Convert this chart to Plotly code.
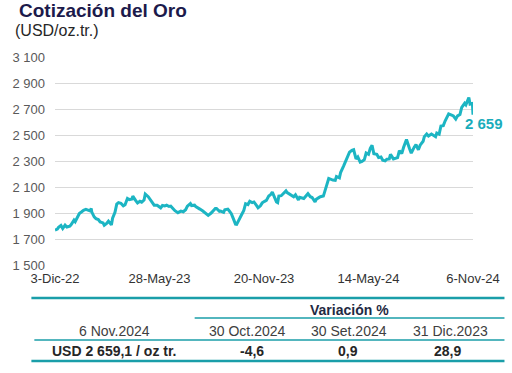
import plotly.graph_objects as go

# ---------------- data ----------------
dates = [
    "2022-12-03", "2022-12-07", "2022-12-09", "2022-12-13", "2022-12-16", "2022-12-20", "2022-12-23",
    "2022-12-28", "2022-12-30", "2023-01-04", "2023-01-06", "2023-01-10", "2023-01-13", "2023-01-17",
    "2023-01-20", "2023-01-24", "2023-01-27", "2023-01-31", "2023-02-02", "2023-02-03", "2023-02-07",
    "2023-02-10", "2023-02-14", "2023-02-17", "2023-02-22", "2023-02-24", "2023-02-28", "2023-03-03",
    "2023-03-08", "2023-03-10", "2023-03-14", "2023-03-17", "2023-03-20", "2023-03-24", "2023-03-28",
    "2023-03-31", "2023-04-04", "2023-04-07", "2023-04-12", "2023-04-13", "2023-04-18", "2023-04-21",
    "2023-04-25", "2023-04-28", "2023-05-02", "2023-05-04", "2023-05-09", "2023-05-12", "2023-05-16",
    "2023-05-19", "2023-05-24", "2023-05-30", "2023-06-02", "2023-06-06", "2023-06-09", "2023-06-13",
    "2023-06-16", "2023-06-21", "2023-06-23", "2023-06-28", "2023-07-03", "2023-07-07", "2023-07-11",
    "2023-07-14", "2023-07-19", "2023-07-21", "2023-07-26", "2023-07-28", "2023-08-02", "2023-08-04",
    "2023-08-09", "2023-08-11", "2023-08-16", "2023-08-18", "2023-08-23", "2023-08-25", "2023-08-30",
    "2023-09-01", "2023-09-06", "2023-09-08", "2023-09-13", "2023-09-15", "2023-09-20", "2023-09-22",
    "2023-09-26", "2023-09-29", "2023-10-03", "2023-10-05", "2023-10-09", "2023-10-13", "2023-10-17",
    "2023-10-20", "2023-10-24", "2023-10-27", "2023-10-31", "2023-11-03", "2023-11-07", "2023-11-10",
    "2023-11-14", "2023-11-17", "2023-11-21", "2023-11-24", "2023-11-28", "2023-12-01", "2023-12-04",
    "2023-12-07", "2023-12-11", "2023-12-13", "2023-12-15", "2023-12-19", "2023-12-22", "2023-12-27",
    "2023-12-29", "2024-01-03", "2024-01-05", "2024-01-09", "2024-01-12", "2024-01-17", "2024-01-19",
    "2024-01-23", "2024-01-26", "2024-01-30", "2024-02-02", "2024-02-06", "2024-02-09", "2024-02-14",
    "2024-02-16", "2024-02-21", "2024-02-23", "2024-02-28", "2024-03-01", "2024-03-05", "2024-03-08",
    "2024-03-12", "2024-03-15", "2024-03-19", "2024-03-21", "2024-03-26", "2024-03-28", "2024-04-02",
    "2024-04-05", "2024-04-09", "2024-04-12", "2024-04-16", "2024-04-19", "2024-04-23", "2024-04-26",
    "2024-04-30", "2024-05-03", "2024-05-07", "2024-05-10", "2024-05-14", "2024-05-17", "2024-05-20",
    "2024-05-23", "2024-05-28", "2024-05-31", "2024-06-04", "2024-06-07", "2024-06-11", "2024-06-14",
    "2024-06-18", "2024-06-20", "2024-06-25", "2024-06-28", "2024-07-02", "2024-07-05", "2024-07-09",
    "2024-07-12", "2024-07-16", "2024-07-17", "2024-07-22", "2024-07-25", "2024-07-30", "2024-08-02",
    "2024-08-06", "2024-08-09", "2024-08-14", "2024-08-16", "2024-08-20", "2024-08-23", "2024-08-28",
    "2024-08-30", "2024-09-04", "2024-09-06", "2024-09-10", "2024-09-13", "2024-09-17", "2024-09-20",
    "2024-09-24", "2024-09-26", "2024-10-01", "2024-10-04", "2024-10-08", "2024-10-11", "2024-10-15",
    "2024-10-18", "2024-10-23", "2024-10-25", "2024-10-30", "2024-11-01", "2024-11-05", "2024-11-06",
]
prices = [
    1775, 1782, 1795, 1810, 1786, 1812, 1798,
    1805, 1814, 1850, 1838, 1876, 1901, 1915,
    1926, 1933, 1928, 1922, 1940, 1912, 1875,
    1862, 1855, 1837, 1829, 1812, 1825, 1843,
    1814, 1866, 1910, 1973, 1985, 1980, 1960,
    1969, 2016, 2008, 2013, 2035, 2000, 1982,
    1995, 1988, 2005, 2050, 2030, 2012, 1990,
    1965, 1965, 1945, 1963, 1960, 1965, 1955,
    1958, 1930, 1923, 1908, 1920, 1915, 1930,
    1958, 1978, 1962, 1965, 1955, 1945, 1935,
    1920, 1913, 1900, 1887, 1905, 1915, 1940,
    1940, 1918, 1920, 1910, 1930, 1935, 1924,
    1900, 1866, 1820, 1818, 1860, 1890, 1925,
    1977, 1970, 1995, 1985, 1990, 1965, 1945,
    1960, 1983, 1995, 2002, 2035, 2045, 2065,
    2030, 1990, 1985, 2035, 2038, 2055, 2075,
    2062, 2045, 2040, 2030, 2045, 2005, 2025,
    2020, 2016, 2038, 2054, 2030, 2024, 1990,
    2010, 2025, 2030, 2035, 2070, 2125, 2170,
    2160, 2158, 2155, 2185, 2175, 2215, 2265,
    2300, 2345, 2372, 2385, 2390, 2320, 2335,
    2295, 2300, 2315, 2365, 2355, 2400, 2425,
    2360, 2355, 2330, 2335, 2310, 2305, 2318,
    2320, 2355, 2320, 2326, 2330, 2383, 2360,
    2407, 2460, 2469, 2400, 2364, 2410, 2430,
    2390, 2425, 2455, 2490, 2510, 2495, 2510,
    2503, 2490, 2518, 2510, 2572, 2575, 2610,
    2640, 2665, 2655, 2649, 2625, 2650, 2660,
    2714, 2746, 2735, 2790, 2740, 2745, 2659,
]

y_tick_values = [1500, 1700, 1900, 2100, 2300, 2500, 2700, 2900, 3100]
y_tick_labels = ["1 500", "1 700", "1 900", "2 100", "2 300", "2 500", "2 700", "2 900", "3 100"]
x_tick_values = ["2022-12-03", "2023-05-28", "2023-11-20", "2024-05-14", "2024-11-06"]
x_tick_labels = ["3-Dic-22", "28-May-23", "20-Nov-23", "14-May-24", "6-Nov-24"]

title_text = "Cotización del Oro"
subtitle_text = "(USD/oz.tr.)"
last_label = "2 659"

table_group_header = "Variación %"
table_header = ["6 Nov.2024", "30 Oct.2024", "30 Set.2024", "31 Dic.2023"]
table_values = ["USD 2 659,1 / oz tr.", "-4,6", "0,9", "28,9"]

# ---------------- layout helpers (pixel -> paper) ----------------
W, H = 512, 373
L, R, T, B = 53, 478, 57, 266


def px(x):
    return (x - L) / (R - L)


def py(y):
    return (B - y) / (B - T)


LINE_COLOR = "#1cb5c3"
TABLE_LINE = "#1a9ea9"
FONT = "Liberation Sans, Arial, sans-serif"

fig = go.Figure()
fig.add_trace(go.Scatter(
    x=dates, y=prices, mode="lines",
    line=dict(color=LINE_COLOR, width=3),
    hoverinfo="skip", showlegend=False,
))

fig.update_layout(
    width=W, height=H,
    margin=dict(l=L, r=W - R, t=T, b=H - B, pad=0),
    paper_bgcolor="white", plot_bgcolor="white",
    font=dict(family=FONT, size=13, color="#404040"),
    showlegend=False,
)
fig.update_xaxes(
    range=["2022-12-03", "2024-11-06"],
    tickmode="array", tickvals=x_tick_values, ticktext=x_tick_labels,
    showgrid=False, showline=False, zeroline=False, ticks="",
    ticklabelstandoff=3,
    tickfont=dict(size=13, color="#333333"),
)
fig.update_yaxes(
    range=[1499, 3101],
    tickmode="array", tickvals=y_tick_values, ticktext=y_tick_labels,
    showgrid=True, gridcolor="#d9d9d9", gridwidth=1,
    showline=False, zeroline=False, ticks="",
    ticklabelstandoff=9,
    tickfont=dict(size=13, color="#595959"),
)

ann = []
shapes = []

# title
ann.append(dict(text="<b>" + title_text + "</b>", x=px(14), y=py(10), xref="paper", yref="paper",
                xanchor="left", yanchor="middle", showarrow=False,
                font=dict(size=19, color="#1c1a4b", family=FONT)))
ann.append(dict(text=subtitle_text, x=px(10), y=py(30), xref="paper", yref="paper",
                xanchor="left", yanchor="middle", showarrow=False,
                font=dict(size=16, color="#262626", family=FONT)))
# last value label
ann.append(dict(text="<b>" + last_label + "</b>", x=px(489), y=py(123), xref="paper", yref="paper",
                xanchor="center", yanchor="middle", showarrow=False,
                font=dict(size=15, color="#1aacbb", family=FONT)))

# table lines
for (x0, x1, y, w) in [(29, 510, 298, 2.5), (195, 510, 318, 1.5), (32, 510, 340, 1.5), (29, 510, 361, 2.5)]:
    shapes.append(dict(type="line", xref="paper", yref="paper",
                       x0=px(x0), x1=px(x1), y0=py(y), y1=py(y),
                       line=dict(color=TABLE_LINE, width=w)))

ann.append(dict(text="<b>" + table_group_header + "</b>", x=px(352), y=py(310), xref="paper", yref="paper",
                xanchor="center", yanchor="middle", showarrow=False,
                font=dict(size=14, color="#1f2a44", family=FONT)))
col_x = [114, 248, 352, 455]
val_x = [113, 253, 351, 452]
for cx, t in zip(col_x, table_header):
    ann.append(dict(text=t, x=px(cx), y=py(331), xref="paper", yref="paper",
                    xanchor="center", yanchor="middle", showarrow=False,
                    font=dict(size=14, color="#404040", family=FONT)))
for cx, t in zip(val_x, table_values):
    ann.append(dict(text="<b>" + t + "</b>", x=px(cx), y=py(351), xref="paper", yref="paper",
                    xanchor="center", yanchor="middle", showarrow=False,
                    font=dict(size=14, color="#262626", family=FONT)))

fig.update_layout(annotations=ann, shapes=shapes)
fig.write_html("out.html", config={"displayModeBar": False},
               post_script="document.body.style.margin='0px';")
